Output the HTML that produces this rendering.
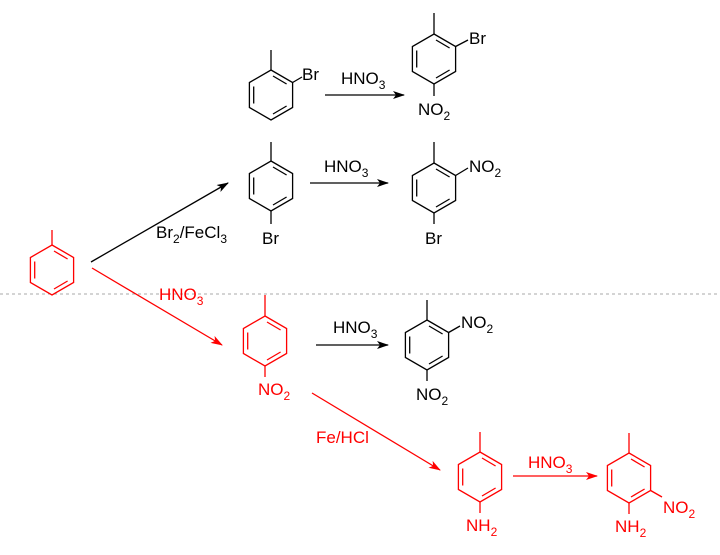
<!DOCTYPE html>
<html><head><meta charset="utf-8"><style>
body{margin:0;background:#fff;}
svg{display:block;font-family:"Liberation Sans",Arial,sans-serif;font-size:17px;}
</style></head><body>
<svg width="720" height="555" viewBox="0 0 720 555" xmlns="http://www.w3.org/2000/svg">
<defs>
<g id="hex" fill="none" stroke-width="1.3">
<polygon points="0,-25 21.6,-12.5 21.6,12.5 0,25 -21.6,12.5 -21.6,-12.5"/>
<line x1="-17.3" y1="-8.5" x2="-17.3" y2="8.5"/>
<line x1="2" y1="-19" x2="15.6" y2="-11"/>
<line x1="15.6" y1="11" x2="2" y2="19"/>
</g>
<marker id="ab" markerWidth="12" markerHeight="8" refX="11" refY="4" orient="auto" markerUnits="userSpaceOnUse"><path d="M0,0 L12,4 L0,8 L3,4z" fill="#000"/></marker>
<marker id="ar" markerWidth="12" markerHeight="8" refX="11" refY="4" orient="auto" markerUnits="userSpaceOnUse"><path d="M0,0 L12,4 L0,8 L3,4z" fill="#f00"/></marker>
</defs>
<line x1="0" y1="294" x2="720" y2="294" stroke="#aaa" stroke-dasharray="3,3" stroke-width="1"/>

<g stroke="#000" fill="#000">
<use href="#hex" x="271" y="95"/>
<line x1="271" y1="70" x2="271" y2="50" stroke-width="1.3"/>
<line x1="292.6" y1="82.5" x2="302" y2="77" stroke-width="1.3"/>
<use href="#hex" x="434" y="59"/>
<line x1="434" y1="34" x2="434" y2="13" stroke-width="1.3"/>
<line x1="455.6" y1="46.5" x2="468" y2="40" stroke-width="1.3"/>
<line x1="434" y1="84" x2="434" y2="96" stroke-width="1.3"/>
<use href="#hex" x="271" y="186"/>
<line x1="271" y1="161" x2="271" y2="142" stroke-width="1.3"/>
<line x1="271" y1="211" x2="271" y2="224" stroke-width="1.3"/>
<use href="#hex" x="434" y="188"/>
<line x1="434" y1="163" x2="434" y2="142" stroke-width="1.3"/>
<line x1="455.6" y1="175.5" x2="468" y2="168" stroke-width="1.3"/>
<line x1="434" y1="213" x2="434" y2="224" stroke-width="1.3"/>
<use href="#hex" x="427" y="345"/>
<line x1="427" y1="320" x2="427" y2="300" stroke-width="1.3"/>
<line x1="448.6" y1="332.5" x2="460" y2="326" stroke-width="1.3"/>
<line x1="427" y1="370" x2="427" y2="381" stroke-width="1.3"/>
<line x1="325" y1="95" x2="404" y2="95" stroke-width="1.3" marker-end="url(#ab)"/>
<line x1="310" y1="183" x2="388" y2="183" stroke-width="1.3" marker-end="url(#ab)"/>
<line x1="91" y1="262" x2="228" y2="183" stroke-width="1.3" marker-end="url(#ab)"/>
<line x1="316" y1="345" x2="388" y2="345" stroke-width="1.3" marker-end="url(#ab)"/>
</g>
<g fill="#000" stroke="none">
<text x="302" y="80">Br</text>
<text x="341" y="84">HNO<tspan font-size="12" dy="5">3</tspan></text>
<text x="469" y="44">Br</text>
<text x="418" y="115">NO<tspan font-size="12" dy="5">2</tspan></text>
<text x="262" y="244">Br</text>
<text x="324" y="172">HNO<tspan font-size="12" dy="5">3</tspan></text>
<text x="469" y="172">NO<tspan font-size="12" dy="5">2</tspan></text>
<text x="425" y="244">Br</text>
<text x="156" y="238">Br<tspan font-size="12" dy="5">2</tspan><tspan dy="-5">/FeCl</tspan><tspan font-size="12" dy="5">3</tspan></text>
<text x="333" y="333">HNO<tspan font-size="12" dy="5">3</tspan></text>
<text x="461" y="328">NO<tspan font-size="12" dy="5">2</tspan></text>
<text x="416" y="400">NO<tspan font-size="12" dy="5">2</tspan></text>
</g>

<g stroke="#f00" fill="#f00">
<use href="#hex" x="52" y="270"/>
<line x1="52" y1="245" x2="52" y2="230" stroke-width="1.3"/>
<use href="#hex" x="265" y="341"/>
<line x1="265" y1="316" x2="265" y2="295" stroke-width="1.3"/>
<line x1="265" y1="366" x2="265" y2="377" stroke-width="1.3"/>
<use href="#hex" x="480" y="477"/>
<line x1="480" y1="452" x2="480" y2="432" stroke-width="1.3"/>
<line x1="480" y1="502" x2="480" y2="513" stroke-width="1.3"/>
<use href="#hex" x="629" y="478"/>
<line x1="629" y1="453" x2="629" y2="433" stroke-width="1.3"/>
<line x1="650.6" y1="490.5" x2="662" y2="497" stroke-width="1.3"/>
<line x1="629" y1="503" x2="629" y2="514" stroke-width="1.3"/>
<line x1="92" y1="268" x2="222" y2="345" stroke-width="1.3" marker-end="url(#ar)"/>
<line x1="312" y1="393" x2="440" y2="470" stroke-width="1.3" marker-end="url(#ar)"/>
<line x1="513" y1="476" x2="597" y2="476" stroke-width="1.3" marker-end="url(#ar)"/>
</g>
<g fill="#f00" stroke="none">
<text x="159" y="300">HNO<tspan font-size="12" dy="5">3</tspan></text>
<text x="258" y="395">NO<tspan font-size="12" dy="5">2</tspan></text>
<text x="316" y="443">Fe/HCl</text>
<text x="466" y="531">NH<tspan font-size="12" dy="5">2</tspan></text>
<text x="528" y="468">HNO<tspan font-size="12" dy="5">3</tspan></text>
<text x="663" y="513">NO<tspan font-size="12" dy="5">2</tspan></text>
<text x="615" y="532">NH<tspan font-size="12" dy="5">2</tspan></text>
</g>
</svg>
</body></html>
